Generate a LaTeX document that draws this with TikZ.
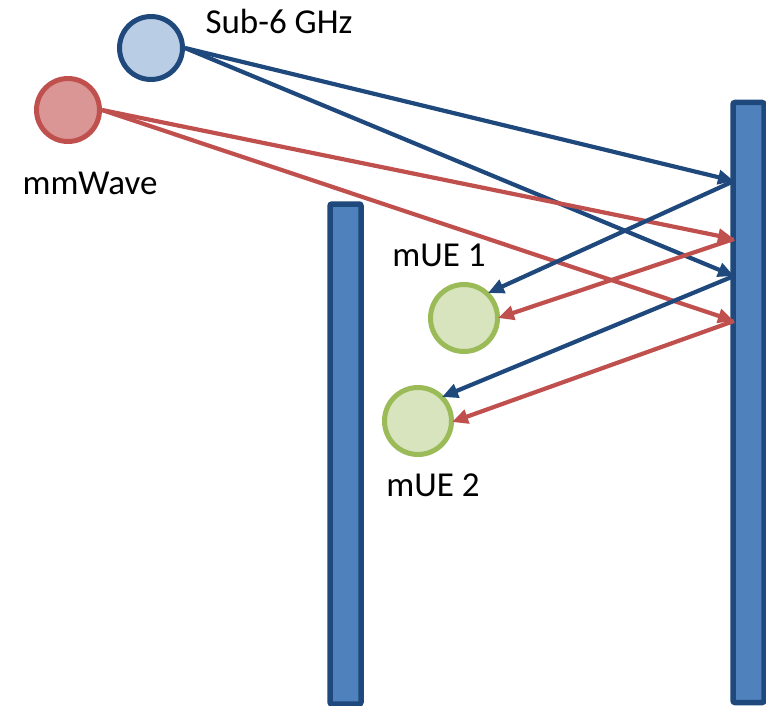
\documentclass[tikz,border=0pt]{standalone}
\usepackage{fontspec}
\setmainfont{Carlito}
\usetikzlibrary{arrows.meta}
\definecolor{dblue}{HTML}{1F497D}
\definecolor{lblue}{HTML}{B9CDE5}
\definecolor{barblue}{HTML}{4F81BD}
\definecolor{dred}{HTML}{C0504D}
\definecolor{lred}{HTML}{DA9694}
\definecolor{dgreen}{HTML}{9BBB59}
\definecolor{lgreen}{HTML}{D7E4BD}
\tikzset{
  src/.style={circle, line width=5pt, minimum size=63pt, inner sep=0pt},
  ue/.style={circle, line width=5pt, draw=dgreen, fill=lgreen, minimum size=67pt, inner sep=0pt},
  bar/.style={rectangle, rounded corners=2pt, line width=5.5pt, draw=dblue, fill=barblue, inner sep=0pt, minimum width=31pt},
  lbl/.style={font=\fontsize{35}{41}\selectfont, inner sep=0pt},
  ray/.style={line width=4.2pt, -{Triangle[length=16pt,width=14pt]}},
  bray/.style={ray, draw=dblue},
  rray/.style={ray, draw=dred}
}
\begin{document}
\begin{tikzpicture}[x=1pt,y=-1pt]
\useasboundingbox (0,0) rectangle (766,706);
% walls
\node[bar, minimum height=500pt] (lbar) at (345.5,454) {};
\node[bar, minimum height=600pt] (rbar) at (748.5,402.5) {};
% sources
\node[src, draw=dblue, fill=lblue] (sub6) at (151,48) {};
\node[src, draw=dred, fill=lred] (mmw) at (68,110) {};
\node[lbl] (sub6l) at (279,21) {Sub-6 GHz};
\node[lbl] (mmwl) at (90,183) {mmWave};
% users
\node[ue] (ue1) at (464,318) {};
\node[ue] (ue2) at (418,421) {};
\node[lbl] (ue1l) at (439,255) {mUE 1};
\node[lbl] (ue2l) at (433,485) {mUE 2};
% hit points on the right wall
\coordinate (h1) at (734,181);
\coordinate (h2) at (734,239);
\coordinate (h3) at (734,276);
\coordinate (h4) at (734,321);
% arrival points at the users
\coordinate (a1) at (488,293);
\coordinate (a2) at (498,318);
\coordinate (a3) at (442,397);
\coordinate (a4) at (452,422);
% incident rays
\draw[bray] (sub6.east) -- (h1);
\draw[bray] (sub6.east) -- (h3);
\draw[rray] (mmw.east) -- (h2);
\draw[rray] (mmw.east) -- (h4);
% reflected rays
\draw[bray] (h1) -- (a1);
\draw[rray] (h2) -- (a2);
\draw[bray] (h3) -- (a3);
\draw[rray] (h4) -- (a4);
\end{tikzpicture}
\end{document}
